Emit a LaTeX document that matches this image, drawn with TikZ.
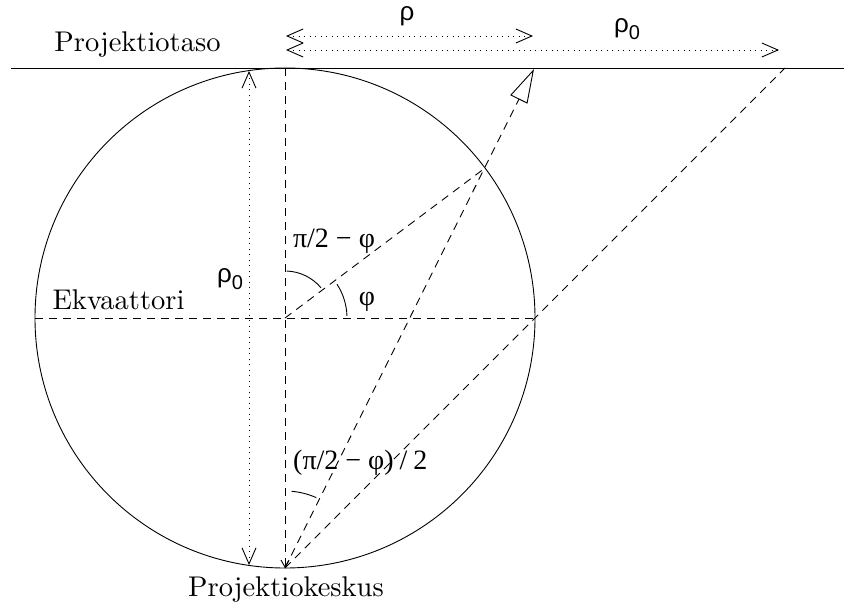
\documentclass[tikz,border=0pt]{standalone}
\usepackage{fontspec}
\newfontfamily\grs{Liberation Sans}
\newfontfamily\grr{Liberation Serif}
\usetikzlibrary{arrows.meta,calc}
\newcommand{\rhozero}{{\grs\fontsize{26bp}{28bp}\selectfont ρ\raisebox{-7bp}{\fontsize{20bp}{20bp}\selectfont 0}}}
\newcommand{\bigrm}[1]{\scalebox{2.86}{\fontsize{10pt}{12pt}\selectfont #1}}
\begin{document}
\begin{tikzpicture}[x=1bp,y=-1bp,
  thin line/.style={line width=0.9bp},
  dashline/.style={thin line, dash pattern=on 8bp off 6bp},
  dotline/.style={thin line, dash pattern=on 1bp off 4.5bp},
  barb/.style={arrows={Straight Barb[length=16bp,width=14bp,line width=0.9bp]-Straight Barb[length=16bp,width=14bp,line width=0.9bp]}},
  lbl/.style={inner sep=0pt, anchor=base},
  glbl/.style={inner sep=0pt, anchor=base, font=\grr\fontsize{28bp}{30bp}\selectfont},
  anglearc/.style={thin line}]
\useasboundingbox (0,0) rectangle (844,608);
% key points
\coordinate (C) at (285,318);
\coordinate (T) at (285,68);
\coordinate (B) at (285,568);
\coordinate (L) at (35,318);
\coordinate (R) at (535,318);
\coordinate (P) at (485,168);
\coordinate (Q) at (534,69);
\coordinate (S) at (785,68);
\coordinate (planeL) at (11,68);
\coordinate (planeR) at (844,68);
\coordinate (r0top) at (249,71);
\coordinate (r0bot) at (249,565);
\coordinate (rhoL) at (286,36);
\coordinate (rhoR) at (533,36);
\coordinate (rzL) at (286,50);
\coordinate (rzR) at (779,50);
% plane and circle
\draw[thin line] (planeL) -- (planeR);
\draw[thin line] (C) circle (250);
% dashed construction lines
\draw[dashline] (L) -- (R);
\draw[dashline, -{Straight Barb[length=7bp,width=8bp,line width=0.9bp]}] (T) -- (B);
\draw[dashline] (C) -- (P);
\draw[dashline] (B) -- (S);
\draw[dashline, -{Triangle[open,length=34bp,width=19bp,line width=0.9bp]}] (B) -- (Q);
% dotted dimension arrows
\draw[dotline, barb] (r0top) -- (r0bot);
\draw[dotline, barb] (rhoL) -- (rhoR);
\draw[dotline, barb] (rzL) -- (rzR);
% angle arcs (y axis points down, so angles are negated)
\draw[anglearc] ($(C)+(-88:47)$) arc[start angle=-88, end angle=-40, radius=47];
\draw[anglearc] ($(C)+(-33:62)$) arc[start angle=-33, end angle=-2, radius=62];
\draw[anglearc] ($(B)+(-85:77)$) arc[start angle=-85, end angle=-66, radius=77];
% labels
\node[lbl] (tplane) at (137.5,52) {\bigrm{Projektiotaso}};
\node[lbl] (tekv) at (118.5,309) {\bigrm{Ekvaattori}};
\node[lbl] (tcent) at (286,596) {\bigrm{Projektiokeskus}};
\node[glbl] (tcomp) at (334,248) {π/2 − φ};
\node[glbl] (tphi) at (367,305) {φ};
\node[glbl, anchor=base west] (thalf) at (293,469) {(π/2 − φ)\kern6bp/\kern6bp2};
\node[inner sep=0pt, anchor=base] (trho) at (407,21) {\grs\fontsize{26bp}{28bp}\selectfont ρ};
\node[inner sep=0pt, anchor=base west] (trz) at (614,33) {\rhozero};
\node[inner sep=0pt, anchor=base west] (tlrz) at (217,282) {\rhozero};
\end{tikzpicture}
\end{document}
